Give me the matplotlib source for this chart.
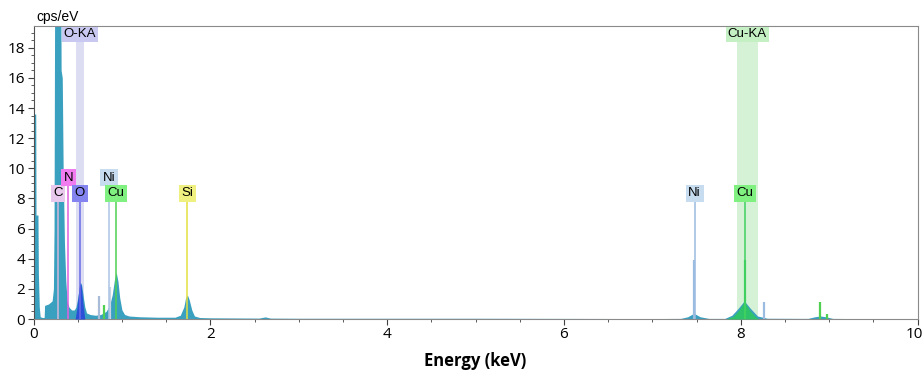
import matplotlib
matplotlib.use("Agg")
import matplotlib.pyplot as plt
from matplotlib.ticker import MultipleLocator

# ===============================
# データ
# ===============================
# スペクトル外形 (keV, cps/eV)
energy = [0.00, 0.002, 0.025, 0.028, 0.05, 0.055, 0.065, 0.075, 0.10, 0.12,
          0.125, 0.17, 0.21, 0.225, 0.232, 0.238, 0.31, 0.312, 0.325, 0.335,
          0.35, 0.365, 0.38, 0.40, 0.43, 0.46, 0.48, 0.50, 0.52, 0.54,
          0.56, 0.58, 0.60, 0.64, 0.70, 0.76, 0.82, 0.86, 0.89, 0.915,
          0.935, 0.955, 0.975, 1.00, 1.03, 1.08, 1.2, 1.4, 1.6, 1.66,
          1.70, 1.72, 1.74, 1.76, 1.79, 1.82, 1.88, 2.0, 2.55, 2.62,
          2.68, 3.0, 4.0, 5.0, 6.0, 7.0, 7.32, 7.40, 7.47, 7.54,
          7.64, 7.82, 7.90, 7.97, 8.04, 8.11, 8.19, 8.3, 8.76, 8.84,
          8.90, 8.96, 9.04, 10.0]
counts = [0.0, 13.6, 13.6, 6.9, 6.9, 3.0, 0.8, 0.15, 0.1, 0.1,
          0.9, 1.0, 1.2, 2.0, 6.0, 19.6, 19.6, 16.5, 16.0, 10.0,
          5.0, 2.5, 1.2, 0.8, 0.6, 0.6, 0.8, 1.4, 2.2, 2.4,
          1.6, 0.8, 0.4, 0.3, 0.25, 0.3, 0.5, 0.9, 1.6, 2.6,
          3.1, 2.5, 1.4, 0.6, 0.3, 0.2, 0.15, 0.12, 0.12, 0.25,
          0.8, 1.4, 1.6, 1.3, 0.6, 0.2, 0.1, 0.08, 0.06, 0.14,
          0.06, 0.05, 0.05, 0.05, 0.04, 0.03, 0.04, 0.15, 0.38, 0.15,
          0.04, 0.04, 0.25, 0.7, 1.2, 0.7, 0.2, 0.05, 0.04, 0.15,
          0.2, 0.15, 0.04, 0.0]

# O-K と Cu-K のフィット成分
o_keV = [0.47, 0.49, 0.51, 0.525, 0.54, 0.56, 0.58]
o_cps = [0.0, 0.7, 1.8, 2.45, 2.2, 1.0, 0.0]
cuk_keV = [7.84, 7.92, 7.98, 8.04, 8.10, 8.16, 8.20]
cuk_cps = [0.0, 0.2, 0.6, 1.15, 0.6, 0.2, 0.0]

# 単一チャンネルのスパイク
spike_keV = [0.739, 0.80, 0.86, 7.474, 8.047, 8.26, 8.90, 8.98]
spike_cps = [1.5, 0.9, 2.1, 3.9, 3.9, 1.1, 1.1, 0.3]
spike_col = ["#a8bcd8", "#50d050", "#c8d4e4", "#9cbbe0", "#40d060",
             "#9cbbe0", "#50d050", "#50d050"]

# 元素ラベル
el_names = ["C", "N", "O", "Ni", "Cu", "Si", "Ni", "Cu"]
el_keV = [0.277, 0.392, 0.525, 0.851, 0.930, 1.740, 7.478, 8.047]
el_row = [0, 1, 0, 1, 0, 0, 0, 0]
el_box = ["#e8c8ec", "#f07cf0", "#8484f0", "#c8dcf0", "#80f080",
          "#f0f080", "#c8dcf0", "#80f080"]
el_line = ["#d4b8dc", "#e060e0", "#6a6ae8", "#aac4e4", "#50d050",
           "#e4e040", "#9cbbe0", "#40d060"]

# 強調バンド
bands = [("O-KA", 0.483, 0.569, "#dcdcf2", "#c8c8f0"),
         ("Cu-KA", 7.96, 8.19, "#d6f2d6", "#c4f0c4")]

# x 軸目盛り
x_ticks = [0, 2, 4, 6, 8, 10]
x_ticklabels = ["0", "2", "4", "6", "8", "10"]

TEAL = "#3aa0c0"
LABEL_FONT = ["Liberation Sans", "DejaVu Sans"]

# ===============================
# 描画
# ===============================
fig = plt.figure(figsize=(9.24, 3.70), dpi=100)
ax = fig.add_axes([0.0363, 0.1378, 0.9567, 0.7927])

for name, x0, x1, fc, lc in bands:
    ax.axvspan(x0, x1, color=fc, lw=0, zorder=0.5)
    ax.text((x0 + x1) / 2, 18.9, name, ha="center", va="center",
            fontsize=9.5, family=LABEL_FONT, zorder=6,
            bbox=dict(boxstyle="square,pad=0.12", fc=lc, ec="none"))

ax.fill_between(energy, counts, color=TEAL, lw=0, zorder=2)
ax.fill_between(o_keV, o_cps, color="#2a50d8", lw=0, zorder=3)
ax.fill_between(cuk_keV, cuk_cps, color="#2ec26a", lw=0, zorder=3)
ax.vlines(spike_keV, 0, spike_cps, colors=spike_col, lw=1.6, zorder=4)

row_y = [8.34, 9.37]
for name, x, r, bc, lc in zip(el_names, el_keV, el_row, el_box, el_line):
    y = row_y[r]
    ax.vlines(x, 0, y - 0.45, colors=lc, lw=1.1, zorder=4)
    ax.text(x, y, name, ha="center", va="center", fontsize=9.5,
            family=LABEL_FONT, zorder=6,
            bbox=dict(boxstyle="square,pad=0.2", fc=bc, ec="none"))

ax.set_xlim(0, 10)
ax.set_ylim(0, 19.46)
# 右端の "10" は切れないよう別に置く
ax.set_xticks(x_ticks, x_ticklabels[:-1] + [""])
ax.annotate(x_ticklabels[-1], xy=(x_ticks[-1], 0), xycoords=("data", "axes fraction"),
            xytext=(4, -6), textcoords="offset points", ha="right", va="top",
            fontsize=11, family="Open Sans")
ax.xaxis.set_minor_locator(MultipleLocator(0.5))
ax.yaxis.set_major_locator(MultipleLocator(2))
ax.yaxis.set_minor_locator(MultipleLocator(0.5))
ax.tick_params(which="major", length=4, width=0.8, color="#404040",
               labelsize=11, pad=2)
ax.tick_params(which="minor", length=2, width=0.6, color="#404040")
for lab in ax.get_xticklabels() + ax.get_yticklabels():
    lab.set_family("Open Sans")

for side in ["top", "right", "bottom"]:
    ax.spines[side].set_color("#8a8a8a")
ax.spines["left"].set_color("#505050")

ax.set_xlabel("Energy (keV)", fontsize=12, fontweight="bold",
              family="Open Sans", labelpad=7)
ax.text(0.003, 1.005, "cps/eV", transform=ax.transAxes, ha="left",
        va="bottom", fontsize=10, family=LABEL_FONT)

fig.savefig("out.png", dpi=100)
